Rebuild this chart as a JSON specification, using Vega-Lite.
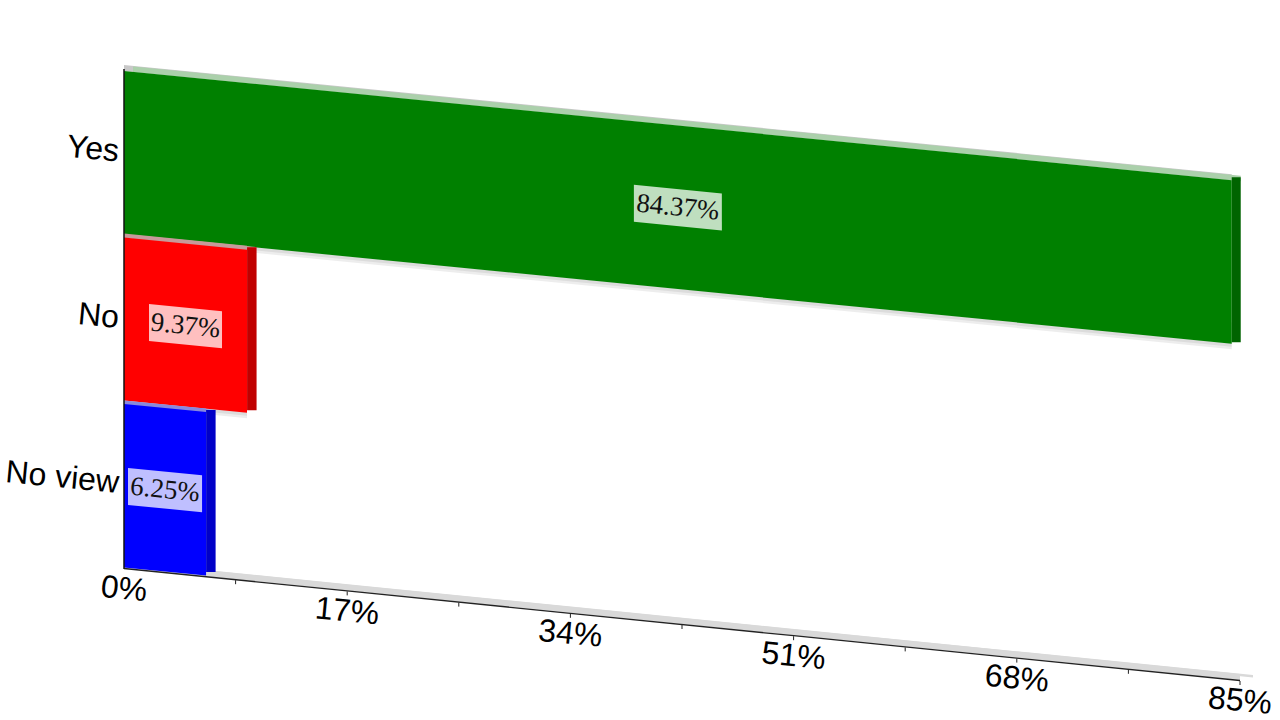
{
"$schema":"https://vega.github.io/schema/vega-lite/v6.json",
"width":1280,"height":720,"padding":0,"autosize":"none","background":"white",
"config":{"view":{"stroke":null}},
"datasets":{
"bars":[{"answer":"Yes","share":84.37,"start":0,"label":"84.37%"},{"answer":"No","share":9.37,"start":0,"label":"9.37%"},{"answer":"No view","share":6.25,"start":0,"label":"6.25%"}],
"ticks":[{"tick":0,"label":"0%"},{"tick":17,"label":"17%"},{"tick":34,"label":"34%"},{"tick":51,"label":"51%"},{"tick":68,"label":"68%"},{"tick":85,"label":"85%"}],
"minor":[{"tick":8.5},{"tick":17},{"tick":25.5},{"tick":34},{"tick":42.5},{"tick":51},{"tick":59.5},{"tick":68},{"tick":76.5},{"tick":85}]
},
"resolve":{"scale":{"y":"independent"}},
"layer":[
{"data":{"name":"ticks"},"mark":{"type":"area","orient":"vertical","color":"#d9d9d9","xOffset":13,"yOffset":563,"y2Offset":565.5},
"encoding":{"x":{"field":"tick","type":"quantitative","axis":null,"scale":{"domain":[0,85],"range":[124,1240]}},"y":{"field":"tick","type":"quantitative","stack":null,"axis":null,"scale":{"domain":[0,85],"range":[0,112],"nice":false,"zero":false}},"y2":{"field":"tick"}}},
{"data":{"name":"ticks"},"mark":{"type":"area","orient":"vertical","color":"#d9d9d9","xOffset":0,"yOffset":562,"y2Offset":568},
"encoding":{"x":{"field":"tick","type":"quantitative","axis":null,"scale":{"domain":[0,85],"range":[124,1240]}},"y":{"field":"tick","type":"quantitative","stack":null,"axis":null,"scale":{"domain":[0,85],"range":[0,112],"nice":false,"zero":false}},"y2":{"field":"tick"}}},
{"data":{"name":"ticks"},"mark":{"type":"line","color":"#222222","strokeWidth":1.3,"yOffset":568.5},
"encoding":{"x":{"field":"tick","type":"quantitative","axis":null,"scale":{"domain":[0,85],"range":[124,1240]}},"y":{"field":"tick","type":"quantitative","axis":null,"scale":{"domain":[0,85],"range":[0,112],"nice":false,"zero":false}}}},
{"data":{"name":"minor"},"mark":{"type":"rule","color":"#222222","strokeWidth":1,"yOffset":569,"y2Offset":573},
"encoding":{"x":{"field":"tick","type":"quantitative","axis":null,"scale":{"domain":[0,85],"range":[124,1240]}},"y":{"field":"tick","type":"quantitative","axis":null,"scale":{"domain":[0,85],"range":[0,112],"nice":false,"zero":false}},"y2":{"field":"tick"}}},
{"data":{"name":"ticks"},"mark":{"type":"text","font":"Liberation Sans","fontSize":32,"color":"#000000","angle":5.5,"align":"center","baseline":"middle","yOffset":589},
"encoding":{"x":{"field":"tick","type":"quantitative","axis":null,"scale":{"domain":[0,85],"range":[124,1240]}},"y":{"field":"tick","type":"quantitative","axis":null,"scale":{"domain":[0,85],"range":[0,112],"nice":false,"zero":false}},"text":{"field":"label"}}},

{"data":{"name":"bars"},"transform":[{"filter":"datum.answer==='Yes'"},{"fold":["start","share"],"as":["k","x"]}],"mark":{"type":"area","orient":"vertical","color":"#c8c8c8","yOffset":65,"y2Offset":71},
"encoding":{"x":{"field":"x","type":"quantitative","axis":null,"scale":{"domain":[0,85],"range":[124,1240]}},"y":{"field":"x","type":"quantitative","stack":null,"axis":null,"scale":{"domain":[0,85],"range":[0,110],"nice":false,"zero":false}},"y2":{"field":"x"}}},
{"data":{"name":"bars"},"transform":[{"filter":"datum.answer==='Yes'"},{"fold":["start","share"],"as":["k","x"]}],"mark":{"type":"area","orient":"vertical","color":"#abd0ab","xOffset":9,"yOffset":66.5,"y2Offset":72},
"encoding":{"x":{"field":"x","type":"quantitative","axis":null,"scale":{"domain":[0,85],"range":[124,1240]}},"y":{"field":"x","type":"quantitative","stack":null,"axis":null,"scale":{"domain":[0,85],"range":[0,110],"nice":false,"zero":false}},"y2":{"field":"x"}}},
{"data":{"name":"bars"},"transform":[{"filter":"datum.answer==='Yes'"},{"fold":["start","share"],"as":["k","x"]}],"mark":{"type":"area","orient":"vertical","color":"#000000","opacity":0.07,"yOffset":234,"y2Offset":240},
"encoding":{"x":{"field":"x","type":"quantitative","axis":null,"scale":{"domain":[0,85],"range":[124,1240]}},"y":{"field":"x","type":"quantitative","stack":null,"axis":null,"scale":{"domain":[0,85],"range":[0,110],"nice":false,"zero":false}},"y2":{"field":"x"}}},
{"data":{"name":"bars"},"transform":[{"filter":"datum.answer==='Yes'"},{"fold":["start","share"],"as":["k","x"]}],"mark":{"type":"area","orient":"vertical","color":"#000000","opacity":0.07,"yOffset":234,"y2Offset":237.5},
"encoding":{"x":{"field":"x","type":"quantitative","axis":null,"scale":{"domain":[0,85],"range":[124,1240]}},"y":{"field":"x","type":"quantitative","stack":null,"axis":null,"scale":{"domain":[0,85],"range":[0,110],"nice":false,"zero":false}},"y2":{"field":"x"}}},
{"data":{"name":"bars"},"transform":[{"filter":"datum.answer==='Yes'"},{"fold":["start","share"],"as":["k","x"]}],"mark":{"type":"area","orient":"vertical","color":"#008000","yOffset":71,"y2Offset":234.5},
"encoding":{"x":{"field":"x","type":"quantitative","axis":null,"scale":{"domain":[0,85],"range":[124,1240]}},"y":{"field":"x","type":"quantitative","stack":null,"axis":null,"scale":{"domain":[0,85],"range":[0,110],"nice":false,"zero":false}},"y2":{"field":"x"}}},
{"data":{"name":"bars"},"transform":[{"filter":"datum.answer==='Yes'"}],"mark":{"type":"rule","color":"#006400","strokeWidth":9,"xOffset":4.5,"x2Offset":4.5,"yOffset":68,"y2Offset":233},
"encoding":{"x":{"field":"share","type":"quantitative","axis":null,"scale":{"domain":[0,85],"range":[124,1240]}},"y":{"field":"share","type":"quantitative","axis":null,"scale":{"domain":[0,85],"range":[0,110],"nice":false,"zero":false}},"y2":{"field":"share"}}},

{"data":{"name":"bars"},"transform":[{"filter":"datum.answer==='No'"},{"fold":["start","share"],"as":["k","x"]}],"mark":{"type":"area","orient":"vertical","color":"#000000","opacity":0.07,"yOffset":400,"y2Offset":406},
"encoding":{"x":{"field":"x","type":"quantitative","axis":null,"scale":{"domain":[0,85],"range":[124,1240]}},"y":{"field":"x","type":"quantitative","stack":null,"axis":null,"scale":{"domain":[0,85],"range":[0,110],"nice":false,"zero":false}},"y2":{"field":"x"}}},
{"data":{"name":"bars"},"transform":[{"filter":"datum.answer==='No'"},{"fold":["start","share"],"as":["k","x"]}],"mark":{"type":"area","orient":"vertical","color":"#000000","opacity":0.07,"yOffset":400,"y2Offset":403.5},
"encoding":{"x":{"field":"x","type":"quantitative","axis":null,"scale":{"domain":[0,85],"range":[124,1240]}},"y":{"field":"x","type":"quantitative","stack":null,"axis":null,"scale":{"domain":[0,85],"range":[0,110],"nice":false,"zero":false}},"y2":{"field":"x"}}},
{"data":{"name":"bars"},"transform":[{"filter":"datum.answer==='No'"},{"fold":["start","share"],"as":["k","x"]}],"mark":{"type":"area","orient":"vertical","color":"#c79a9a","yOffset":233.5,"y2Offset":238},
"encoding":{"x":{"field":"x","type":"quantitative","axis":null,"scale":{"domain":[0,85],"range":[124,1240]}},"y":{"field":"x","type":"quantitative","stack":null,"axis":null,"scale":{"domain":[0,85],"range":[0,110],"nice":false,"zero":false}},"y2":{"field":"x"}}},
{"data":{"name":"bars"},"transform":[{"filter":"datum.answer==='No'"},{"fold":["start","share"],"as":["k","x"]}],"mark":{"type":"area","orient":"vertical","color":"#c79a9a","xOffset":9,"yOffset":235,"y2Offset":239},
"encoding":{"x":{"field":"x","type":"quantitative","axis":null,"scale":{"domain":[0,85],"range":[124,1240]}},"y":{"field":"x","type":"quantitative","stack":null,"axis":null,"scale":{"domain":[0,85],"range":[0,110],"nice":false,"zero":false}},"y2":{"field":"x"}}},
{"data":{"name":"bars"},"transform":[{"filter":"datum.answer==='No'"},{"fold":["start","share"],"as":["k","x"]}],"mark":{"type":"area","orient":"vertical","color":"#ff0000","yOffset":237.5,"y2Offset":400.5},
"encoding":{"x":{"field":"x","type":"quantitative","axis":null,"scale":{"domain":[0,85],"range":[124,1240]}},"y":{"field":"x","type":"quantitative","stack":null,"axis":null,"scale":{"domain":[0,85],"range":[0,110],"nice":false,"zero":false}},"y2":{"field":"x"}}},
{"data":{"name":"bars"},"transform":[{"filter":"datum.answer==='No'"}],"mark":{"type":"rule","color":"#c00000","strokeWidth":9.5,"xOffset":4.8,"x2Offset":4.8,"yOffset":235,"y2Offset":398},
"encoding":{"x":{"field":"share","type":"quantitative","axis":null,"scale":{"domain":[0,85],"range":[124,1240]}},"y":{"field":"share","type":"quantitative","axis":null,"scale":{"domain":[0,85],"range":[0,110],"nice":false,"zero":false}},"y2":{"field":"share"}}},

{"data":{"name":"bars"},"transform":[{"filter":"datum.answer==='No view'"},{"fold":["start","share"],"as":["k","x"]}],"mark":{"type":"area","orient":"vertical","color":"#8888dd","yOffset":400.5,"y2Offset":405},
"encoding":{"x":{"field":"x","type":"quantitative","axis":null,"scale":{"domain":[0,85],"range":[124,1240]}},"y":{"field":"x","type":"quantitative","stack":null,"axis":null,"scale":{"domain":[0,85],"range":[0,110],"nice":false,"zero":false}},"y2":{"field":"x"}}},
{"data":{"name":"bars"},"transform":[{"filter":"datum.answer==='No view'"},{"fold":["start","share"],"as":["k","x"]}],"mark":{"type":"area","orient":"vertical","color":"#8888dd","xOffset":9,"yOffset":402,"y2Offset":406},
"encoding":{"x":{"field":"x","type":"quantitative","axis":null,"scale":{"domain":[0,85],"range":[124,1240]}},"y":{"field":"x","type":"quantitative","stack":null,"axis":null,"scale":{"domain":[0,85],"range":[0,110],"nice":false,"zero":false}},"y2":{"field":"x"}}},
{"data":{"name":"bars"},"transform":[{"filter":"datum.answer==='No view'"},{"fold":["start","share"],"as":["k","x"]}],"mark":{"type":"area","orient":"vertical","color":"#0000ff","yOffset":404,"y2Offset":567.5},
"encoding":{"x":{"field":"x","type":"quantitative","axis":null,"scale":{"domain":[0,85],"range":[124,1240]}},"y":{"field":"x","type":"quantitative","stack":null,"axis":null,"scale":{"domain":[0,85],"range":[0,110],"nice":false,"zero":false}},"y2":{"field":"x"}}},
{"data":{"name":"bars"},"transform":[{"filter":"datum.answer==='No view'"}],"mark":{"type":"rule","color":"#0000c8","strokeWidth":9.5,"xOffset":4.8,"x2Offset":4.8,"yOffset":402,"y2Offset":564},
"encoding":{"x":{"field":"share","type":"quantitative","axis":null,"scale":{"domain":[0,85],"range":[124,1240]}},"y":{"field":"share","type":"quantitative","axis":null,"scale":{"domain":[0,85],"range":[0,110],"nice":false,"zero":false}},"y2":{"field":"share"}}},

{"data":{"name":"ticks"},"transform":[{"filter":"datum.tick===0"}],"mark":{"type":"rule","color":"#111111","strokeWidth":1.5,"yOffset":69,"y2Offset":569},
"encoding":{"x":{"field":"tick","type":"quantitative","axis":null,"scale":{"domain":[0,85],"range":[124,1240]}},"y":{"field":"tick","type":"quantitative","axis":null,"scale":{"domain":[0,85],"range":[0,110],"nice":false,"zero":false}},"y2":{"field":"tick"}}},

{"data":{"name":"bars"},"transform":[{"filter":"datum.answer==='Yes'"},{"calculate":"datum.share/2-3.35","as":"lo"},{"calculate":"datum.share/2+3.35","as":"hi"},{"fold":["lo","hi"],"as":["k","x"]}],"mark":{"type":"area","orient":"vertical","color":"#ffffff","opacity":0.75,"yOffset":134.5,"y2Offset":171.5},
"encoding":{"x":{"field":"x","type":"quantitative","axis":null,"scale":{"domain":[0,85],"range":[124,1240]}},"y":{"field":"x","type":"quantitative","stack":null,"axis":null,"scale":{"domain":[0,85],"range":[0,110],"nice":false,"zero":false}},"y2":{"field":"x"}}},
{"data":{"name":"bars"},"transform":[{"filter":"datum.answer==='No'"},{"calculate":"datum.share/2-2.78","as":"lo"},{"calculate":"datum.share/2+2.78","as":"hi"},{"fold":["lo","hi"],"as":["k","x"]}],"mark":{"type":"area","orient":"vertical","color":"#ffffff","opacity":0.75,"yOffset":301.5,"y2Offset":338.5},
"encoding":{"x":{"field":"x","type":"quantitative","axis":null,"scale":{"domain":[0,85],"range":[124,1240]}},"y":{"field":"x","type":"quantitative","stack":null,"axis":null,"scale":{"domain":[0,85],"range":[0,110],"nice":false,"zero":false}},"y2":{"field":"x"}}},
{"data":{"name":"bars"},"transform":[{"filter":"datum.answer==='No view'"},{"calculate":"datum.share/2-2.82","as":"lo"},{"calculate":"datum.share/2+2.82","as":"hi"},{"fold":["lo","hi"],"as":["k","x"]}],"mark":{"type":"area","orient":"vertical","color":"#ffffff","opacity":0.75,"yOffset":467.5,"y2Offset":504.5},
"encoding":{"x":{"field":"x","type":"quantitative","axis":null,"scale":{"domain":[0,85],"range":[124,1240]}},"y":{"field":"x","type":"quantitative","stack":null,"axis":null,"scale":{"domain":[0,85],"range":[0,110],"nice":false,"zero":false}},"y2":{"field":"x"}}},

{"data":{"name":"bars"},"transform":[{"filter":"datum.answer==='Yes'"},{"calculate":"datum.share/2","as":"mid"}],"mark":{"type":"text","font":"Liberation Serif","fontSize":27,"color":"#111111","angle":5.6,"align":"center","baseline":"middle","yOffset":153},
"encoding":{"x":{"field":"mid","type":"quantitative","axis":null,"scale":{"domain":[0,85],"range":[124,1240]}},"y":{"field":"mid","type":"quantitative","axis":null,"scale":{"domain":[0,85],"range":[0,110],"nice":false,"zero":false}},"text":{"field":"label"}}},
{"data":{"name":"bars"},"transform":[{"filter":"datum.answer==='No'"},{"calculate":"datum.share/2","as":"mid"}],"mark":{"type":"text","font":"Liberation Serif","fontSize":27,"color":"#111111","angle":5.6,"align":"center","baseline":"middle","yOffset":320},
"encoding":{"x":{"field":"mid","type":"quantitative","axis":null,"scale":{"domain":[0,85],"range":[124,1240]}},"y":{"field":"mid","type":"quantitative","axis":null,"scale":{"domain":[0,85],"range":[0,110],"nice":false,"zero":false}},"text":{"field":"label"}}},
{"data":{"name":"bars"},"transform":[{"filter":"datum.answer==='No view'"},{"calculate":"datum.share/2","as":"mid"}],"mark":{"type":"text","font":"Liberation Serif","fontSize":27,"color":"#111111","angle":5.6,"align":"center","baseline":"middle","yOffset":486},
"encoding":{"x":{"field":"mid","type":"quantitative","axis":null,"scale":{"domain":[0,85],"range":[124,1240]}},"y":{"field":"mid","type":"quantitative","axis":null,"scale":{"domain":[0,85],"range":[0,110],"nice":false,"zero":false}},"text":{"field":"label"}}},

{"data":{"name":"bars"},"transform":[{"filter":"datum.answer==='Yes'"}],"mark":{"type":"text","font":"Liberation Sans","fontSize":32,"color":"#000000","align":"right","baseline":"middle","angle":5.5,"xOffset":-5,"yOffset":151.5},
"encoding":{"x":{"datum":0,"type":"quantitative","axis":null,"scale":{"domain":[0,85],"range":[124,1240]}},"y":{"datum":0,"type":"quantitative","axis":null,"scale":{"domain":[0,85],"range":[0,110],"nice":false,"zero":false}},"text":{"field":"answer"}}},
{"data":{"name":"bars"},"transform":[{"filter":"datum.answer==='No'"}],"mark":{"type":"text","font":"Liberation Sans","fontSize":32,"color":"#000000","align":"right","baseline":"middle","angle":5.5,"xOffset":-5,"yOffset":318},
"encoding":{"x":{"datum":0,"type":"quantitative","axis":null,"scale":{"domain":[0,85],"range":[124,1240]}},"y":{"datum":0,"type":"quantitative","axis":null,"scale":{"domain":[0,85],"range":[0,110],"nice":false,"zero":false}},"text":{"field":"answer"}}},
{"data":{"name":"bars"},"transform":[{"filter":"datum.answer==='No view'"}],"mark":{"type":"text","font":"Liberation Sans","fontSize":32,"color":"#000000","align":"right","baseline":"middle","angle":5.5,"xOffset":-5,"yOffset":483},
"encoding":{"x":{"datum":0,"type":"quantitative","axis":null,"scale":{"domain":[0,85],"range":[124,1240]}},"y":{"datum":0,"type":"quantitative","axis":null,"scale":{"domain":[0,85],"range":[0,110],"nice":false,"zero":false}},"text":{"field":"answer"}}}
]
}
